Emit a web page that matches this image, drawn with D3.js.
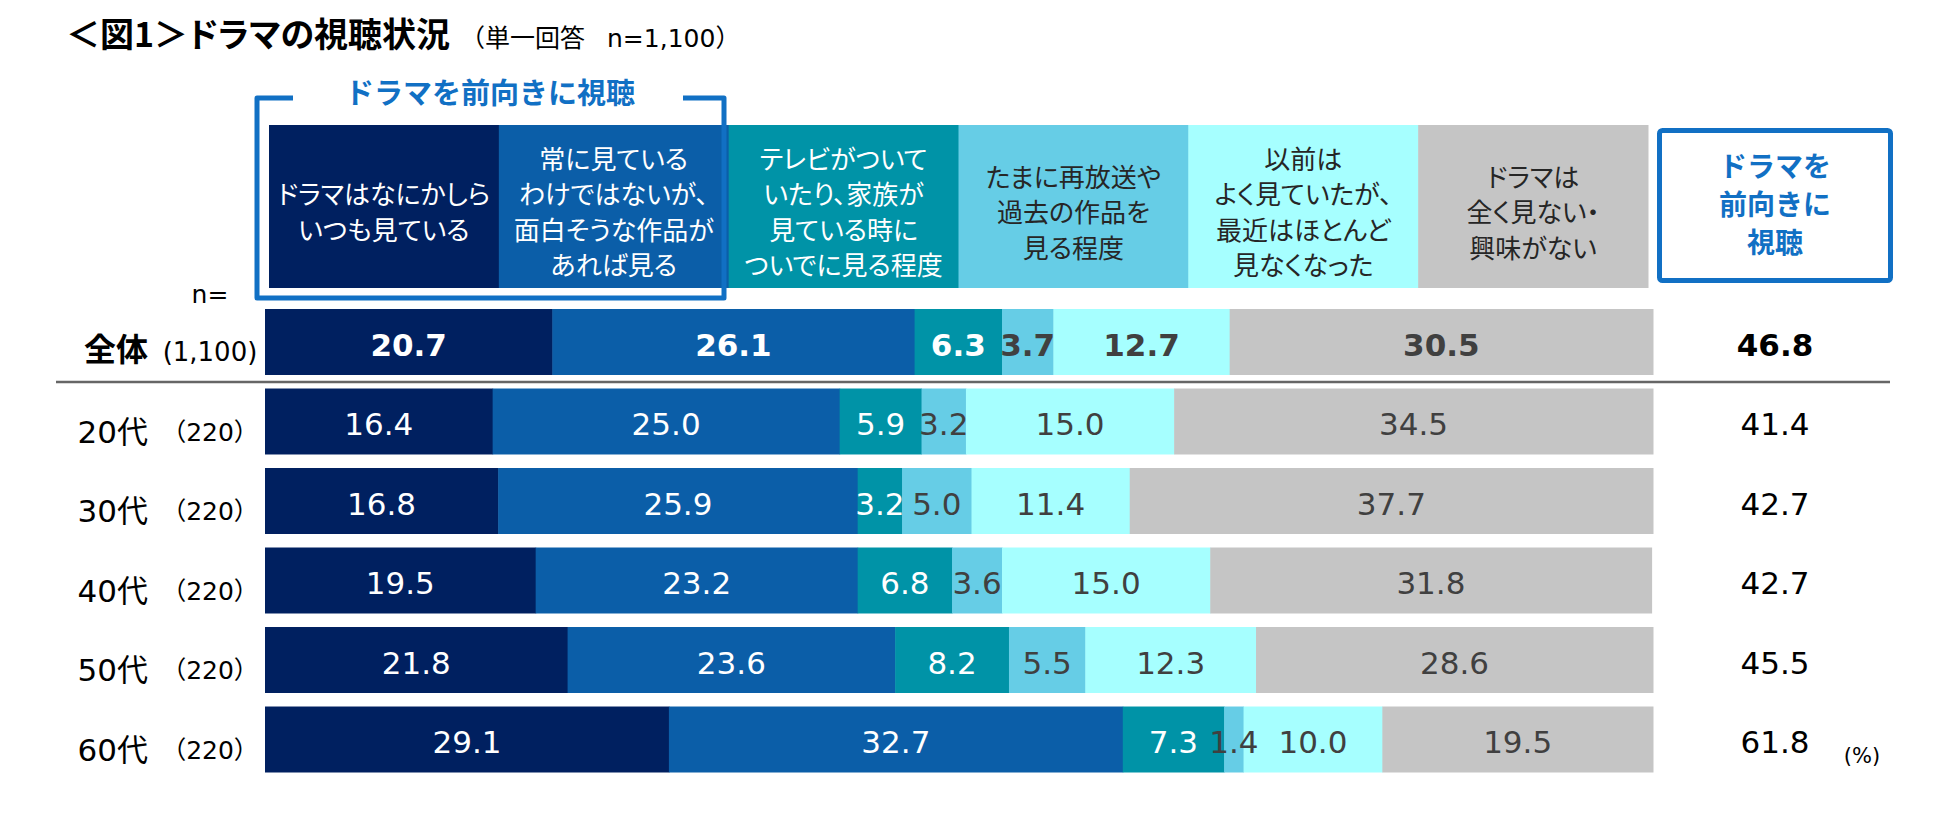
<!DOCTYPE html>
<html>
<head>
<meta charset="utf-8">
<script src="https://cdn.jsdelivr.net/npm/d3@7"></script>
<style>
  body { margin: 0; background: #fff; }
  svg text { font-family: "DejaVu Sans", "Noto Sans CJK JP", sans-serif; }
  .jp { font-family: "Noto Sans CJK JP", sans-serif; font-feature-settings: "palt"; }
  .jpw { font-family: "Noto Sans CJK JP", sans-serif; }
</style>
</head>
<body>
<svg id="chart" width="1950" height="816"></svg>
<script>
// rows
var rowLabels = ["全体", "20代", "30代", "40代", "50代", "60代"];
var nLabels = ["(1,100)", "（220）", "（220）", "（220）", "（220）", "（220）"];

// answer categories (header text, line by line)
var seriesNames = [
    ["ドラマはなにかしら", "いつも見ている"],
    ["常に見ている", "わけではないが、", "面白そうな作品が", "あれば見る"],
    ["テレビがついて", "いたり、家族が", "見ている時に", "ついでに見る程度"],
    ["たまに再放送や", "過去の作品を", "見る程度"],
    ["以前は", "よく見ていたが、", "最近はほとんど", "見なくなった"],
    ["ドラマは", "全く見ない・", "興味がない"]
];

// values (%)
var always   = [20.7, 16.4, 16.8, 19.5, 21.8, 29.1];
var ifGood   = [26.1, 25.0, 25.9, 23.2, 23.6, 32.7];
var withTv   = [6.3, 5.9, 3.2, 6.8, 8.2, 7.3];
var reruns   = [3.7, 3.2, 5.0, 3.6, 5.5, 1.4];
var formerly = [12.7, 15.0, 11.4, 15.0, 12.3, 10.0];
var never    = [30.5, 34.5, 37.7, 31.8, 28.6, 19.5];
var positive = [46.8, 41.4, 42.7, 42.7, 45.5, 61.8];

var series = [always, ifGood, withTv, reruns, formerly, never];
var colors = ["#002060", "#0b5ea8", "#0093a7", "#66cde6", "#a6ffff", "#c5c5c5"];
var textColors = ["#fff", "#fff", "#fff", "#404040", "#404040", "#404040"];
var headTextColors = ["#fff", "#fff", "#fff", "#262626", "#262626", "#262626"];
var accent = "#1170c4";

var svg = d3.select("#chart");

var x = d3.scaleLinear().domain([0, 100]).range([265, 1653]);
var y = d3.scaleBand().domain(rowLabels).range([309, 772.5]).paddingInner(0.17).paddingOuter(0);

// title
svg.append("text").attr("class", "jp").attr("x", 66).attr("y", 47)
    .attr("font-size", 34).attr("font-weight", "bold").attr("fill", "#000")
    .text("＜図1＞ドラマの視聴状況");
var sub = svg.append("text").attr("x", 460).attr("y", 47).attr("font-size", 25).attr("fill", "#000");
sub.append("tspan").attr("class", "jpw").text("（単一回答");
sub.append("tspan").attr("dx", 22).text("n=1,100");
sub.append("tspan").attr("class", "jpw").text("）");

// header cells
var hx = d3.scaleBand().domain(d3.range(6)).range([269, 1648]);
var head = svg.append("g").selectAll("g").data(seriesNames).enter().append("g");
head.append("rect")
    .attr("x", function (d, i) { return hx(i); })
    .attr("y", 125)
    .attr("width", hx.bandwidth() + 0.5)
    .attr("height", 163)
    .attr("fill", function (d, i) { return colors[i]; });
head.each(function (lines, i) {
    var g = d3.select(this);
    lines.forEach(function (t, k) {
        g.append("text").attr("class", "jp")
            .attr("x", hx(i) + hx.bandwidth() / 2)
            .attr("y", 212 + (k - (lines.length - 1) / 2) * 35.5 + 10)
            .attr("text-anchor", "middle")
            .attr("font-size", 26)
            .attr("fill", headTextColors[i])
            .text(t);
    });
});

// bracket round the first two categories
svg.append("path")
    .attr("d", "M293,98 H257 V298 H724 V98 H683")
    .attr("fill", "none").attr("stroke", accent).attr("stroke-width", 5)
    .attr("stroke-linejoin", "round");
svg.append("text").attr("class", "jpw")
    .attr("x", 490).attr("y", 104)
    .attr("text-anchor", "middle").attr("font-size", 29).attr("font-weight", "bold")
    .attr("fill", accent).text("ドラマを前向きに視聴");

// right header box
svg.append("rect")
    .attr("x", 1659.5).attr("y", 130.5).attr("width", 231).attr("height", 150)
    .attr("rx", 3).attr("fill", "#fff").attr("stroke", accent).attr("stroke-width", 5);
["ドラマを", "前向きに", "視聴"].forEach(function (t, k) {
    svg.append("text").attr("class", "jpw")
        .attr("x", 1775).attr("y", 177 + k * 38)
        .attr("text-anchor", "middle").attr("font-size", 28).attr("font-weight", "bold")
        .attr("fill", accent).text(t);
});

// n=
svg.append("text").attr("x", 210).attr("y", 303).attr("text-anchor", "middle")
    .attr("font-size", 25).attr("fill", "#000").text("n=");

// stacked bars
var stacked = rowLabels.map(function (r, i) {
    var acc = 0;
    return series.map(function (s, j) {
        var seg = { row: r, idx: i, cat: j, v: s[i], x0: acc, x1: acc + s[i] };
        acc += s[i];
        return seg;
    });
});

var rows = svg.append("g").selectAll("g").data(stacked).enter().append("g");
rows.selectAll("rect").data(function (d) { return d; }).enter().append("rect")
    .attr("x", function (d) { return x(d.x0); })
    .attr("y", function (d) { return y(d.row); })
    .attr("width", function (d) { return x(d.x1) - x(d.x0) + 0.5; })
    .attr("height", y.bandwidth())
    .attr("fill", function (d) { return colors[d.cat]; });
rows.selectAll("text").data(function (d) { return d; }).enter().append("text")
    .attr("x", function (d) { return x((d.x0 + d.x1) / 2); })
    .attr("y", function (d) { return y(d.row) + 46.5; })
    .attr("text-anchor", "middle")
    .attr("font-size", 31)
    .attr("font-weight", function (d) { return d.idx == 0 ? "bold" : "normal"; })
    .attr("fill", function (d) { return textColors[d.cat]; })
    .text(function (d) { return d.v.toFixed(1); });

// row labels
rowLabels.forEach(function (r, i) {
    svg.append("text")
        .attr("x", 148).attr("y", y(r) + (i == 0 ? 52 : 54))
        .attr("text-anchor", "end")
        .attr("font-size", i == 0 ? 32 : 31)
        .attr("font-weight", i == 0 ? "bold" : "normal")
        .attr("fill", "#000").text(r);
    svg.append("text")
        .attr("x", 210).attr("y", y(r) + 52)
        .attr("text-anchor", "middle")
        .attr("font-size", i == 0 ? 26 : 25)
        .attr("fill", "#000").text(nLabels[i]);
    svg.append("text")
        .attr("x", 1775).attr("y", y(r) + 46.5)
        .attr("text-anchor", "middle")
        .attr("font-size", 31)
        .attr("font-weight", i == 0 ? "bold" : "normal")
        .attr("fill", "#000").text(positive[i].toFixed(1));
});

// separator under total
svg.append("line")
    .attr("x1", 56).attr("x2", 1890).attr("y1", 382).attr("y2", 382)
    .attr("stroke", "#666").attr("stroke-width", 2.5);

svg.append("text").attr("x", 1862).attr("y", 763).attr("text-anchor", "middle")
    .attr("font-size", 21).attr("fill", "#000").text("(%)");
</script>
</body>
</html>
